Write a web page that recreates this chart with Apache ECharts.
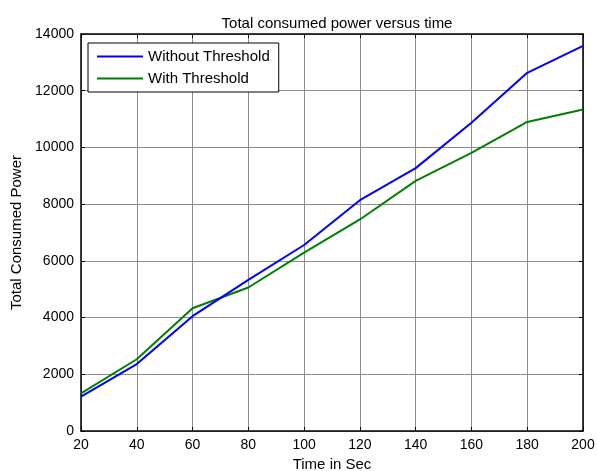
<!DOCTYPE html>
<html>
<head>
<meta charset="utf-8">
<script src="https://cdn.jsdelivr.net/npm/echarts@6/dist/echarts.min.js"></script>
<style>
html,body{margin:0;padding:0;background:#fff;}
#chart{width:597px;height:471px;}
</style>
</head>
<body>
<div id="chart"></div>
<script>
var timeSec = [20, 40, 60, 80, 100, 120, 140, 160, 180, 200];
var withoutThreshold = [1210, 2360, 4050, 5330, 6560, 8140, 9270, 10870, 12630, 13580];
var withThreshold = [1330, 2530, 4330, 5060, 6290, 7460, 8820, 9810, 10900, 11340];
var seriesNames = ['Without Threshold', 'With Threshold'];

function pairs(xs, ys) { return xs.map(function (x, i) { return [x, ys[i]]; }); }

var font = 'Arial, "Liberation Sans", sans-serif';
var chart = echarts.init(document.getElementById('chart'), null, {renderer: 'canvas'});

function axisCommon(extra) {
  return Object.assign({
    axisLine: {show: true, onZero: false, lineStyle: {color: '#000', width: 1.5}},
    axisTick: {show: true, inside: true, length: 4, lineStyle: {color: '#000', width: 1}},
    splitLine: {show: false}
  }, extra);
}

chart.setOption({
  animation: false,
  backgroundColor: '#fff',
  title: {
    text: 'Total consumed power versus time',
    left: 332, textAlign: 'center', top: 11,
    textStyle: {fontFamily: font, fontSize: 15, fontWeight: 'normal', color: '#000'}
  },
  grid: {left: 81, right: 14, top: 34, bottom: 40, containLabel: false, outerBoundsMode: 'none'},
  legend: {
    data: seriesNames.map(function (n) { return {name: n, icon: 'rect'}; }),
    orient: 'vertical',
    left: 88, top: 43,
    padding: [6, 9, 6, 9],
    itemGap: 7,
    itemWidth: 46, itemHeight: 2,
    backgroundColor: '#fff',
    borderColor: '#000', borderWidth: 1,
    textStyle: {fontFamily: font, fontSize: 15, color: '#000', lineHeight: 15}
  },
  xAxis: [
    axisCommon({
      type: 'value', min: 20, max: 200, interval: 20, position: 'bottom',
      name: 'Time in Sec', nameLocation: 'middle', nameGap: 25,
      nameTextStyle: {fontFamily: font, fontSize: 15, color: '#000'},
      axisLabel: {fontFamily: font, fontSize: 14, color: '#000', margin: 7},
      splitLine: {show: true, lineStyle: {color: '#8c8c8c', width: 1}}
    }),
    axisCommon({
      type: 'value', min: 20, max: 200, interval: 20, position: 'top',
      axisLabel: {show: false}
    })
  ],
  yAxis: [
    axisCommon({
      type: 'value', min: 0, max: 14000, interval: 2000, position: 'left',
      name: 'Total Consumed Power', nameLocation: 'middle', nameGap: 53,
      nameTextStyle: {fontFamily: font, fontSize: 15, color: '#000'},
      axisLabel: {fontFamily: font, fontSize: 14, color: '#000', margin: 7,
        formatter: function (v) { return String(v); }},
      splitLine: {show: true, lineStyle: {color: '#8c8c8c', width: 1}}
    }),
    axisCommon({
      type: 'value', min: 0, max: 14000, interval: 2000, position: 'right',
      axisLabel: {show: false}
    })
  ],
  series: [
    {
      name: seriesNames[0], type: 'line', data: pairs(timeSec, withoutThreshold),
      symbol: 'none', lineStyle: {color: '#0000ff', width: 2}, itemStyle: {color: '#0000ff'}, z: 3
    },
    {
      name: seriesNames[1], type: 'line', data: pairs(timeSec, withThreshold),
      symbol: 'none', lineStyle: {color: '#008000', width: 2}, itemStyle: {color: '#008000'}, z: 2
    }
  ]
});
</script>
</body>
</html>
